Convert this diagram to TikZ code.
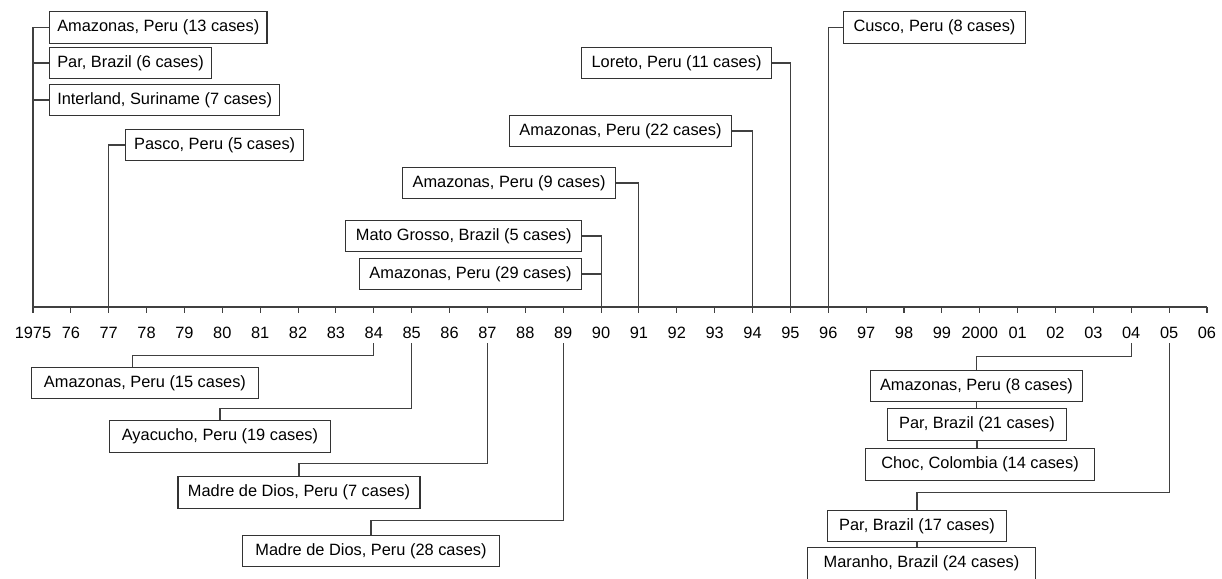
\documentclass[tikz,border=0pt]{standalone}
\usepackage{fontspec}
\setmainfont{Liberation Sans}

\begin{document}
\begin{tikzpicture}[
		every node/.style={font=\fontsize{12.3}{14}\selectfont},
		case/.style={draw=black!80, line width=0.8pt, minimum height=0.83cm, inner xsep=7.5pt, inner ysep=0pt},
		link/.style={draw=black!75, line width=0.8pt}]
			\useasboundingbox (-0.871,-7.156) rectangle (31.397,8.107);

			% Time axis with the years
			\draw[link] (0,0) -- (31,0);
			\foreach \yr [count=\i from 0] in {1975,76,77,78,79,80,81,82,83,84,85,86,87,88,89,90,91,92,93,94,95,96,97,98,99,2000,01,02,03,04,05,06}
			{
				\coordinate (tk\i) at (\i,0);
				\draw[link] (tk\i) -- ++(0,-0.16);
				\node[inner sep=3pt] (lab\i) at (\i,-0.687) {\yr};
			}

			% Outbreaks above the axis
			\node[case, anchor=west, inner xsep=5.8pt] (amaz13) at (0.423,7.381) {Amazonas, Peru (13 cases)};
			\node[case, anchor=west, inner xsep=5.8pt] (para6) at (0.423,6.443) {Par, Brazil (6 cases)};
			\node[case, anchor=west, inner xsep=5.8pt] (inter7) at (0.423,5.466) {Interland, Suriname (7 cases)};
			\node[case, anchor=west, inner xsep=6.5pt] (pasco5) at (2.429,4.278) {Pasco, Peru (5 cases)};
			\node[case, anchor=east] (loreto11) at (19.514,6.443) {Loreto, Peru (11 cases)};
			\node[case, anchor=east] (amaz22) at (18.458,4.647) {Amazonas, Peru (22 cases)};
			\node[case, anchor=east] (amaz9) at (15.395,3.274) {Amazonas, Peru (9 cases)};
			\node[case, anchor=east] (mato5) at (14.497,1.875) {Mato Grosso, Brazil (5 cases)};
			\node[case, anchor=east] (amaz29) at (14.497,0.871) {Amazonas, Peru (29 cases)};
			\node[case, anchor=west] (cusco8) at (21.389,7.381) {Cusco, Peru (8 cases)};

			\draw[link] (tk0) |- (amaz13.west);
			\draw[link] (tk0) |- (para6.west);
			\draw[link] (tk0) |- (inter7.west);
			\draw[link] (tk2) |- (pasco5.west);
			\draw[link] (tk20) |- (loreto11.east);
			\draw[link] (tk19) |- (amaz22.east);
			\draw[link] (tk16) |- (amaz9.east);
			\draw[link] (tk15) |- (mato5.east);
			\draw[link] (tk15) |- (amaz29.east);
			\draw[link] (tk21) |- (cusco8.west);

			% Outbreaks below the axis
			\node[case, inner xsep=9.5pt] (amaz15) at (2.957,-2.007) {Amazonas, Peru (15 cases)};
			\node[case, inner xsep=9.5pt] (ayac19) at (4.938,-3.420) {Ayacucho, Peru (19 cases)};
			\node[case] (madre7) at (7.024,-4.898) {Madre de Dios, Peru (7 cases)};
			\node[case, inner xsep=9.5pt] (madre28) at (8.925,-6.443) {Madre de Dios, Peru (28 cases)};
			\node[case] (amaz8) at (24.914,-2.086) {Amazonas, Peru (8 cases)};
			\node[case, inner xsep=8.5pt] (para21) at (24.927,-3.103) {Par, Brazil (21 cases)};
			\node[case, inner xsep=12pt] (choc14) at (25.007,-4.159) {Choc, Colombia (14 cases)};
			\node[case, inner xsep=8.5pt] (para17) at (23.343,-5.783) {Par, Brazil (17 cases)};
			\node[case, inner xsep=12pt] (maran24) at (23.462,-6.773) {Maranho, Brazil (24 cases)};

			\draw[link] (lab9.south) |- ([xshift=-0.34cm, yshift=0.29cm]amaz15.north) -- ([xshift=-0.34cm]amaz15.north);
			\draw[link] (lab10.south) |- ([yshift=0.32cm]ayac19.north) -- (ayac19.north);
			\draw[link] (lab12.south) |- ([yshift=0.34cm]madre7.north) -- (madre7.north);
			\draw[link] (lab14.south) |- ([yshift=0.37cm]madre28.north) -- (madre28.north);
			\draw[link] (lab29.south) |- ([yshift=0.34cm]amaz8.north) -- (amaz8.north);
			\draw[link] (amaz8.south) -- (amaz8.south |- para21.north);
			\draw[link] (para21.south) -- (para21.south |- choc14.north);
			\draw[link] (lab30.south) |- ([yshift=0.45cm]para17.north) -- (para17.north);
			\draw[link] (para17.south) -- (para17.south |- maran24.north);
		\end{tikzpicture}
\end{document}
